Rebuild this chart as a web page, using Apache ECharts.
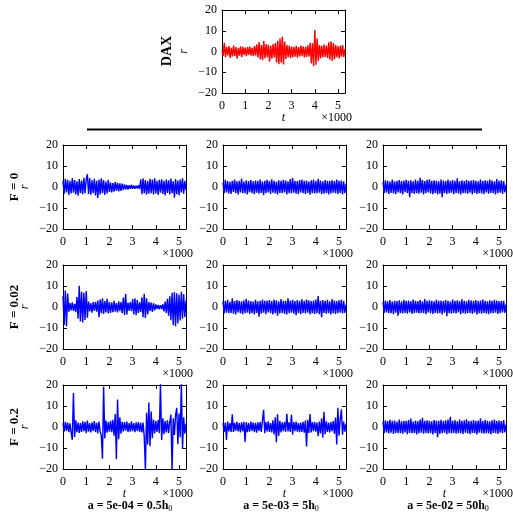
<!DOCTYPE html>
<html>
<head>
<meta charset="utf-8">
<script src="https://cdn.jsdelivr.net/npm/echarts@6/dist/echarts.min.js"></script>
<style>
  html, body { margin: 0; padding: 0; background: #fff; }
  #chart { width: 513px; height: 517px; }
</style>
</head>
<body>
<div id="chart"></div>
<script>
// sampling of the returns, one value every tStep time units
const tStep = 50
const tMax = 5300
const xTickLabels = ['0', '1', '2', '3', '4', '5']
const yTicks = [-20, -10, 0, 10, 20]

const rowLabels = ['F = 0', 'F = 0.02', 'F = 0.2']
const colLabels = [['a = 5e-04 = 0.5h', '0'], ['a = 5e-03 = 5h', '0'], ['a = 5e-02 = 50h', '0']]

// DAX returns (red, top)
const daxR = [
  0.5, -2.1, 4.2, -2.8, 2.3, -1.9, 2.6, -3.1, 1.8, -2.4,
  2.9, -2.2, 2.1, -3.4, 1.7, -2.0, 2.5, -2.7, 2.2, -1.8,
  1.9, -2.3, 2.1, -1.6, 2.4, -2.0, 1.8, -2.2, 2.6, -1.9,
  3.4, -2.9, 4.6, -3.8, 3.1, -4.2, 5.1, -3.3, 3.6, -2.8,
  3.2, -4.9, 2.8, -3.5, 3.6, -2.9, 4.1, -5.3, 5.2, -6.1,
  6.4, -5.4, 7.2, -6.3, 4.8, -3.6, 3.1, -2.7, 2.9, -3.2,
  2.4, -2.8, 2.2, -2.5, 2.7, -3.0, 2.1, -2.4, 2.8, -2.2,
  2.5, -2.9, 2.3, -2.6, 3.0, -2.4, 4.2, -5.8, 3.9, -7.1,
  10.3, -6.4, 6.2, -4.5, 3.1, -3.4, 2.7, -2.9, 3.3, -2.6,
  2.8, -3.1, 4.4, -3.9, 4.9, -4.6, 4.1, -3.7, 3.2, -2.8,
  2.6, -3.3, 2.9, -2.5, 3.1, -2.7, 1.2
]

// F = 0
const f0a1 = [
  2.8, -3.2, 3.9, -2.6, 3.4, -3.8, 2.9, -3.1, 4.2, -2.7,
  3.3, -3.5, 2.7, -4.1, 3.8, -2.9, 3.1, -3.4, 4.4, -3.0,
  3.6, 6.1, -3.3, 4.3, -3.7, 3.2, -2.8, 3.9, -4.0, 3.0,
  -5.2, 3.5, -3.6, 4.1, -2.9, 3.3, -3.8, 2.6, -3.1, 3.4,
  -2.3, 2.1, -2.6, 1.9, -2.2, 2.4, -1.8, 2.0, -2.1, 1.7,
  -1.9, 1.6, -1.4, 1.2, -1.1, 1.0, -1.2, 0.9, -0.8, 1.1,
  -0.9, 0.7, -0.8, 0.6, -0.7, 0.9, -1.0, 3.6, -3.4, 4.1,
  -3.0, 3.3, -3.7, 2.8, -3.2, 3.9, -2.9, 3.5, -3.6, 4.2,
  -3.1, 2.9, -3.8, 3.4, -2.7, 3.7, -3.3, 3.0, -4.0, 3.6,
  -2.8, 3.2, -3.5, 4.0, -3.0, 2.7, -5.1, 3.8, -3.4, 3.1,
  -3.9, 3.5, -2.6, 4.1, -3.2, 2.9, -1.5
]
const f0a2 = [
  2.1, -2.9, 3.4, -2.6, 2.8, -3.1, 2.5, -3.3, 3.0, -2.4,
  3.6, -2.8, 2.7, -3.5, 2.9, -2.6, 4.0, -3.0, 2.6, -2.9,
  3.2, -3.6, 2.8, -2.5, 3.3, -3.0, 2.7, -3.4, 3.1, -2.7,
  2.9, -3.2, 3.5, -2.8, 2.6, -3.9, 3.0, -2.9, 3.4, -2.6,
  2.8, -3.3, 3.7, -2.7, 3.0, -3.1, 2.5, -3.6, 3.2, -2.8,
  2.9, -3.0, 3.4, -2.6, 3.1, -3.5, 2.7, -2.9, 3.8, -3.1,
  4.3, -2.7, 3.0, -3.2, 2.8, -3.4, 3.3, -2.6, 3.5, -3.0,
  2.9, -3.3, 3.1, -2.8, 2.6, -3.7, 3.2, -2.9, 3.6, -3.1,
  2.8, -3.0, 3.9, -2.7, 3.1, -3.4, 2.7, -3.2, 3.3, -2.8,
  3.0, -3.5, 2.9, -3.1, 3.2, -2.7, 2.8, -3.0, 3.5, -3.3,
  2.9, -2.8, 3.1, -3.6, 2.7, -2.9, 1.4
]
const f0a3 = [
  2.4, -3.0, 3.2, -2.7, 2.9, -3.3, 2.6, -2.8, 3.5, -3.1,
  2.7, -3.4, 3.0, -2.6, 3.3, -2.9, 2.8, -3.6, 3.1, -2.5,
  3.4, -2.8, 2.9, -4.9, 3.2, -3.0, 2.7, -3.3, 3.6, -2.9,
  3.0, -3.2, 4.4, -2.7, 3.3, -3.5, 2.8, -3.0, 3.4, -2.6,
  3.7, -3.1, 2.9, -3.4, 3.2, -2.8, 3.0, -3.6, 2.7, -3.2,
  3.5, -4.8, 3.1, -2.9, 2.8, -3.3, 3.6, -3.0, 2.9, -2.7,
  3.3, -3.4, 3.0, -2.8, 4.1, -3.1, 2.7, -3.5, 3.2, -2.9,
  2.8, -3.0, 3.4, -3.2, 2.9, -2.7, 3.1, -3.6, 3.3, -2.8,
  3.0, -3.3, 2.7, -2.9, 3.5, -3.1, 2.8, -3.4, 3.2, -2.6,
  2.9, -3.2, 3.6, -2.8, 3.1, -3.0, 2.7, -3.5, 3.8, -2.9,
  3.0, -2.7, 3.2, -3.3, 2.8, -2.6, 1.1
]

// F = 0.02
const f002a1 = [
  5.2, -8.6, 7.9, -9.2, 6.4, -2.3, 1.9, -1.6, 2.2, -1.8,
  1.5, -2.4, 4.8, -5.6, 10.1, -6.9, 7.2, -7.4, 6.8, -6.2,
  7.6, -5.1, 2.6, -2.1, 1.8, -2.7, 2.3, -1.9, 2.5, -2.2,
  3.1, -4.8, 3.6, -2.9, 4.2, -3.3, 2.8, -2.6, 3.9, -3.1,
  2.4, -2.8, 2.1, -2.5, 2.9, -2.2, 1.9, -2.6, 2.7, -2.0,
  2.3, -2.9, 4.5, -3.8, 6.2, -3.6, 2.1, -1.8, 2.3, -2.0,
  3.8, -3.5, 4.1, -3.9, 3.3, -2.8, 2.2, -2.4, 4.6, -4.9,
  6.3, -5.2, 4.1, -3.5, 2.4, -1.9, 2.1, -2.3, 1.8, -1.6,
  1.2, -0.9, 1.0, -1.1, 0.8, -1.0, 1.3, -2.1, 2.6, -2.8,
  3.9, -4.2, 5.1, -6.3, 6.8, -8.7, 7.1, -9.1, 6.5, -7.8,
  5.9, -6.4, 7.3, -5.6, 6.2, -4.8, 3.1
]
const f002a2 = [
  2.6, -3.1, 2.9, -2.7, 3.4, -3.0, 2.5, -2.8, 4.1, -3.2,
  2.8, -3.5, 3.3, -2.6, 3.0, -3.1, 2.7, -3.4, 3.2, -2.9,
  3.9, -2.7, 3.1, -3.3, 2.8, -3.0, 2.6, -3.6, 3.4, -2.8,
  2.7, -4.6, 3.0, -3.2, 3.5, -2.7, 2.9, -3.4, 3.1, -2.6,
  3.3, -3.0, 2.8, -3.5, 3.6, -2.9, 3.2, -4.1, 2.7, -3.1,
  3.8, -2.8, 3.0, -3.3, 2.9, -3.6, 4.2, -3.0, 3.1, -2.7,
  3.4, -3.2, 2.8, -3.9, 3.3, -2.9, 3.0, -3.4, 3.7, -2.8,
  2.9, -3.1, 3.5, -2.7, 3.2, -3.5, 2.8, -3.0, 3.1, -3.3,
  3.6, -2.9, 5.2, -3.4, 3.0, -4.9, 3.3, -2.8, 2.9, -3.2,
  3.4, -3.0, 2.7, -3.6, 3.8, -2.9, 3.1, -3.3, 2.8, -3.0,
  3.2, -2.7, 3.5, -3.1, 2.9, -2.8, 1.2
]
const f002a3 = [
  2.3, -2.8, 3.1, -2.6, 2.7, -3.0, 3.3, -2.9, 2.6, -3.4,
  3.0, -2.7, 2.8, -4.2, 3.2, -2.9, 2.6, -3.1, 3.4, -2.8,
  2.9, -3.2, 3.1, -2.6, 2.7, -3.3, 3.5, -2.9, 3.0, -2.7,
  2.8, -3.1, 3.3, -2.8, 2.6, -3.0, 3.8, -3.4, 2.9, -2.6,
  3.2, -2.9, 3.0, -3.3, 2.7, -2.8, 3.4, -3.1, 2.9, -3.0,
  3.1, -3.5, 2.8, -2.7, 3.3, -4.4, 3.0, -2.9, 2.6, -3.2,
  3.5, -2.8, 2.9, -3.1, 3.2, -2.6, 2.8, -3.4, 3.7, -2.9,
  3.0, -3.2, 2.7, -3.0, 3.4, -2.8, 3.1, -3.3, 2.9, -2.7,
  3.3, -3.6, 2.8, -2.9, 3.1, -3.2, 3.6, -2.8, 3.0, -3.1,
  2.7, -3.4, 3.2, -2.9, 2.9, -3.0, 3.4, -2.7, 3.1, -3.3,
  2.8, -3.0, 3.0, -2.6, 2.9, -2.8, 1.3
]

// F = 0.2
const f02a1 = [
  1.8, -2.2, 2.5, -1.9, 2.1, -2.4, 1.7, -2.6, -6.1, 16.2,
  -4.8, 3.2, -2.5, 2.1, -2.8, 1.9, -2.3, 2.7, -2.0, 2.4,
  -2.9, 3.1, -2.2, 1.8, -2.6, 2.2, -1.9, 2.8, -2.4, 2.0,
  -3.0, 2.6, -2.1, -4.2, -15.1, 19.3, -5.4, 3.1, -2.7, 2.4,
  -2.2, 2.9, -2.5, 3.4, -4.1, 6.2, -15.2, 13.1, -5.8, 4.6,
  -3.2, 2.5, -2.1, 2.3, -1.8, 2.6, -2.4, 1.9, -2.2, 2.7,
  -2.0, 1.8, -2.5, 2.2, -1.9, 2.4, -2.3, 2.0, -2.6, 2.1,
  -4.5, -20.5, 6.8, -8.3, 11.6, -9.2, 7.4, -5.3, 3.6, -3.1,
  2.8, -2.4, 3.3, -2.9, 20.6, -6.2, 4.1, -3.4, 2.9, -2.6,
  3.2, -2.8, 2.5, 5.9, -20.7, 4.2, -3.8, 5.5, 9.1, -8.2,
  6.4, -4.9, 20.8, -10.3, 4.6, -3.2, 1.5
]
const f02a2 = [
  1.8, -2.3, 2.1, -6.2, 2.6, -2.1, 1.9, -2.4, 6.1, -2.3,
  2.0, -1.8, 2.4, -2.1, 1.9, -2.6, 2.2, -2.0, 2.5, -7.1,
  2.3, -2.5, 1.9, -2.2, 2.6, -1.8, 2.1, -2.4, 2.0, -2.7,
  2.2, -1.9, 2.4, -2.3, 3.1, 8.2, -3.0, 2.4, -2.1, 2.7,
  -2.3, 1.9, -2.6, 3.2, -3.5, 4.6, -7.2, 6.1, -4.3, 3.0,
  -2.6, 2.2, -2.0, 2.4, -2.3, 6.3, -2.1, 2.2, -2.4, 5.8,
  -3.6, 2.3, -2.0, 2.6, -2.2, 1.9, -2.4, 2.1, -2.3, 2.5,
  -2.7, 3.1, -9.3, 3.4, -2.8, 6.2, -2.6, 2.3, -2.0, 2.5,
  -2.2, 2.1, -4.4, 2.6, -3.1, 4.2, -5.1, 7.3, -3.4, 2.7,
  -2.4, 2.1, -2.6, 2.3, -2.0, 2.8, -3.2, 4.5, -8.3, 9.2,
  -4.1, 3.3, 8.4, -3.7, 2.6, -2.2, 1.4
]
const f02a3 = [
  2.5, -2.9, 3.2, -2.6, 2.8, -3.1, 3.4, -2.7, 2.9, -3.3,
  3.1, -2.8, 2.6, -3.0, 3.5, -2.9, 2.7, -3.2, 3.0, -2.6,
  2.9, -3.4, 3.3, -2.8, 4.0, -3.0, 2.6, -2.9, 3.1, -3.5,
  2.8, -3.0, 3.6, -2.7, 4.4, -3.2, 2.9, -2.8, 3.2, -3.1,
  3.0, -2.9, 2.7, -3.6, 3.3, -2.8, 3.1, -4.9, 2.9, -3.3,
  3.4, -3.0, 2.8, -2.7, 3.2, -3.4, 3.6, -2.9, 4.9, -3.1,
  3.0, -2.8, 3.3, -3.2, 2.7, -3.0, 3.5, -2.9, 2.9, -3.3,
  3.2, -2.7, 3.7, -3.1, 2.8, -3.4, 3.0, -2.8, 3.3, -2.9,
  2.9, -3.5, 3.1, -2.7, 4.1, -3.0, 2.8, -3.2, 3.4, -2.9,
  3.0, -3.1, 2.7, -3.4, 3.2, -2.8, 3.6, -3.0, 2.9, -3.3,
  3.1, -2.7, 2.8, -3.0, 3.3, -2.6, 1.2
]

const BLUE = '#0000ff'
const RED = '#ff0000'
const font = '"Liberation Serif", "DejaVu Serif", serif'

// layout of the panels (px)
const colLeft = [63, 223, 383]
const rowTop = [145, 265, 385]
const W = 123, H = 84

const panels = [
  { data: daxR, color: RED, left: 222, top: 10, height: 83, tLabel: true },
  { data: f0a1, color: BLUE, left: colLeft[0], top: rowTop[0] },
  { data: f0a2, color: BLUE, left: colLeft[1], top: rowTop[0] },
  { data: f0a3, color: BLUE, left: colLeft[2], top: rowTop[0] },
  { data: f002a1, color: BLUE, left: colLeft[0], top: rowTop[1] },
  { data: f002a2, color: BLUE, left: colLeft[1], top: rowTop[1] },
  { data: f002a3, color: BLUE, left: colLeft[2], top: rowTop[1] },
  { data: f02a1, color: BLUE, left: colLeft[0], top: rowTop[2], tLabel: true },
  { data: f02a2, color: BLUE, left: colLeft[1], top: rowTop[2], tLabel: true },
  { data: f02a3, color: BLUE, left: colLeft[2], top: rowTop[2], tLabel: true },
]

const fmtY = v => v < 0 ? '\u2212' + (-v) : String(v)
const labelStyle = { color: '#000', fontFamily: font, fontSize: 12 }

const grid = [], xAxis = [], yAxis = [], series = [], graphic = []

panels.forEach((p, i) => {
  const h = p.height || H
  grid.push({ left: p.left, top: p.top, width: W, height: h })

  const axisLine = { onZero: false, lineStyle: { color: '#000', width: 1 } }
  const axisTick = { inside: true, length: 4, lineStyle: { color: '#000', width: 1 } }
  const xBase = { gridIndex: i, type: 'value', min: 0, max: tMax, interval: 1000, axisLine, axisTick, splitLine: { show: false } }
  const yBase = { gridIndex: i, type: 'value', min: yTicks[0], max: yTicks[yTicks.length - 1], interval: 10, axisLine, axisTick, splitLine: { show: false } }

  xAxis.push({ ...xBase, position: 'bottom',
    axisLabel: { ...labelStyle, margin: 7, showMaxLabel: false, formatter: v => xTickLabels[v / 1000] ?? '' } })
  xAxis.push({ ...xBase, position: 'top', axisLabel: { show: false } })
  yAxis.push({ ...yBase, position: 'left', axisLabel: { ...labelStyle, margin: 5, formatter: fmtY } })
  yAxis.push({ ...yBase, position: 'right', axisLabel: { show: false } })

  series.push({
    type: 'line', xAxisIndex: 2 * i, yAxisIndex: 2 * i,
    data: p.data.map((v, k) => [k * tStep, v]),
    symbol: 'none', clip: true, animation: false,
    lineStyle: { color: p.color, width: 1.4 },
  })

  const bottom = p.top + h
  // x1000 multiplier and axis names
  graphic.push({ type: 'text', x: p.left + W + 7, y: bottom + 25,
    style: { text: '\u00d71000', font: '12px ' + font, fill: '#000', align: 'right', verticalAlign: 'middle' } })
  if (p.tLabel) {
    graphic.push({ type: 'text', x: p.left + W / 2, y: bottom + 25,
      style: { text: 't', font: 'italic 12px ' + font, fill: '#000', align: 'center', verticalAlign: 'middle' } })
  }
  if (p.left < 100 || i === 0) {
    graphic.push({ type: 'text', x: p.left - 38, y: p.top + h / 2, rotation: Math.PI / 2,
      style: { text: 'r', font: 'italic 12px ' + font, fill: '#000', align: 'center', verticalAlign: 'middle' } })
  }
})

// row and column labels
graphic.push({ type: 'text', x: 167, y: 51, rotation: Math.PI / 2,
  style: { text: 'DAX', font: 'bold 14px ' + font, fill: '#000', align: 'center', verticalAlign: 'middle' } })
rowLabels.forEach((s, r) => {
  graphic.push({ type: 'text', x: 15, y: rowTop[r] + H / 2, rotation: Math.PI / 2,
    style: { text: s, font: 'bold 13px ' + font, fill: '#000', align: 'center', verticalAlign: 'middle' } })
})
const colCenters = [130, 281, 448]
colLabels.forEach((c, k) => {
  graphic.push({ type: 'text', x: colCenters[k], y: 506,
    style: {
      text: '{b|' + c[0] + '}{s|' + c[1] + '}',
      align: 'center', verticalAlign: 'middle',
      rich: {
        b: { font: 'bold 12px ' + font, fill: '#000' },
        s: { font: '8px ' + font, fill: '#000', padding: [6, 0, 0, 0] },
      },
    } })
})
graphic.push({ type: 'line', shape: { x1: 87, y1: 129.5, x2: 482, y2: 129.5 }, style: { stroke: '#000', lineWidth: 2 } })

const chart = echarts.init(document.getElementById('chart'))
chart.setOption({
  animation: false,
  backgroundColor: '#fff',
  grid, xAxis, yAxis, series, graphic,
})
</script>
</body>
</html>
